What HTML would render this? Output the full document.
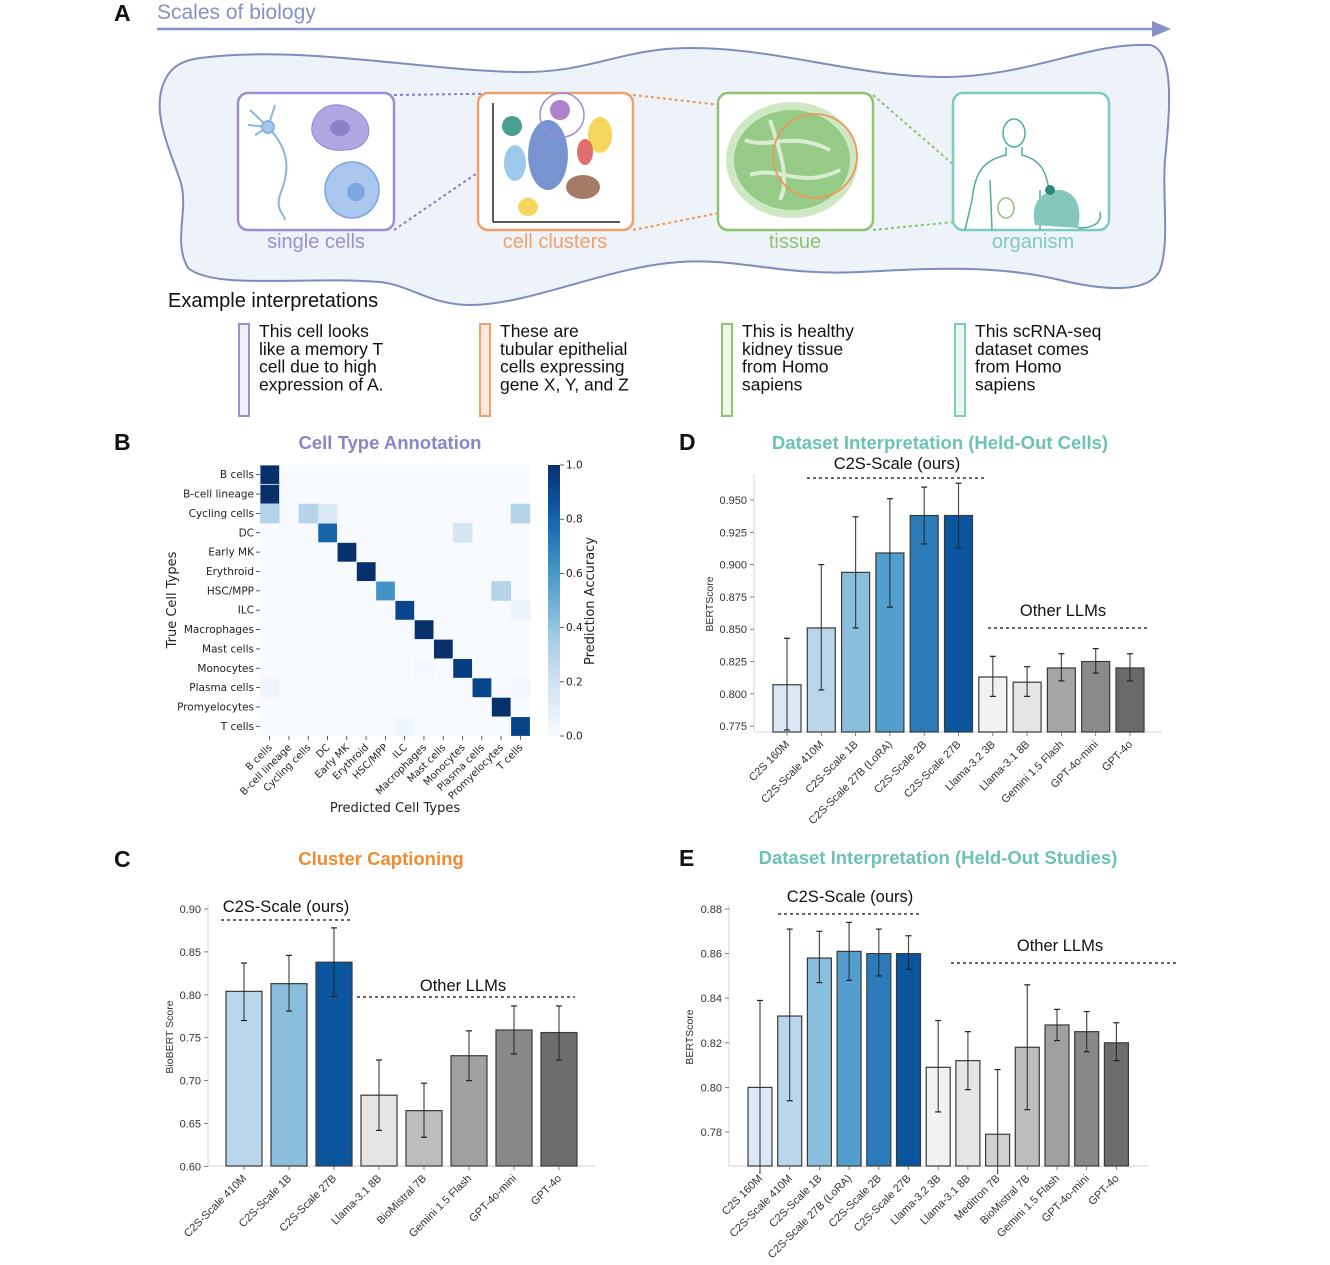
<!DOCTYPE html>
<html><head><meta charset="utf-8">
<style>
html,body{margin:0;padding:0;background:#fff;}
svg{display:block;font-family:"Liberation Sans",sans-serif;}
.dv{font-family:"DejaVu Sans","Liberation Sans",sans-serif;}
</style></head>
<body>
<svg id="fig" width="1330" height="1265" viewBox="0 0 1330 1265" xmlns="http://www.w3.org/2000/svg">
<g>
  <text x="114" y="21" font-size="23" font-weight="bold" fill="#111">A</text>
  <text x="157" y="19" font-size="21" fill="#8592c3">Scales of biology</text>
  <line x1="157" y1="29" x2="1155" y2="29" stroke="#8592c3" stroke-width="2.5"/>
  <polygon points="1152,21 1171,29 1152,37" fill="#8592c3"/>
  <path d="M200,58 C300,45 420,70 515,72 C590,74 620,48 690,48 C780,48 860,78 947,77 C1030,76 1090,42 1150,45 C1175,50 1170,110 1165,160 C1162,200 1170,240 1160,270 C1150,292 1110,292 1060,280 C1000,265 930,268 860,272 C780,276 740,258 680,262 C610,266 530,305 470,305 C430,305 410,285 380,282 C300,276 215,290 188,268 C172,240 190,210 180,180 C170,150 150,110 165,80 C172,65 185,60 200,58 Z" fill="#eef3fa" stroke="#7f8cbd" stroke-width="2"/>
  <g stroke-width="2" stroke-dasharray="3,3" fill="none">
    <line x1="394" y1="95" x2="540" y2="93" stroke="#8a80c8"/>
    <line x1="394" y1="230" x2="540" y2="130" stroke="#8a80c8"/>
    <line x1="633" y1="95" x2="810" y2="115" stroke="#f0965a"/>
    <line x1="633" y1="230" x2="810" y2="195" stroke="#f0965a"/>
    <line x1="873" y1="95" x2="1000" y2="205" stroke="#8dc46f"/>
    <line x1="873" y1="230" x2="995" y2="218" stroke="#8dc46f"/>
  </g>
  <rect x="238" y="93" width="156" height="137" rx="10" fill="#fff" stroke="#9b8fd0" stroke-width="2.5"/>
  <rect x="478" y="93" width="155" height="137" rx="10" fill="#fff" stroke="#f0a06a" stroke-width="2.5"/>
  <rect x="718" y="93" width="155" height="137" rx="10" fill="#fff" stroke="#8dc46f" stroke-width="2.5"/>
  <rect x="953" y="93" width="156" height="137" rx="10" fill="#fff" stroke="#7ccbc0" stroke-width="2.5"/>
  <g stroke="#8ab4e0" stroke-width="2" fill="none">
    <path d="M268,127 C290,150 290,170 280,195 C275,210 285,215 285,220"/>
    <path d="M268,127 L250,110 M268,127 L255,135 M268,127 L275,105 M268,127 L248,125"/>
    <circle cx="268" cy="127" r="6" fill="#a7c8ec"/>
  </g>
  <path d="M340,105 C355,108 365,115 368,125 C372,140 360,150 345,150 C330,152 315,145 312,132 C310,118 322,103 340,105 Z" fill="#b2a6e2" stroke="#9285cf"/>
  <ellipse cx="340" cy="128" rx="10" ry="8" fill="#8c80c6"/>
  <ellipse cx="352" cy="190" rx="27" ry="28" fill="#a9c6ef" stroke="#7ea6dd" stroke-width="1.5"/>
  <circle cx="356" cy="192" r="9" fill="#7ea6dd"/>
  <g>
    <line x1="493" y1="103" x2="493" y2="222" stroke="#222" stroke-width="1.5"/>
    <line x1="493" y1="222" x2="620" y2="222" stroke="#222" stroke-width="1.5"/>
    <ellipse cx="512" cy="126" rx="10" ry="10" fill="#2a8e7e" opacity="0.85"/>
    <ellipse cx="548" cy="155" rx="20" ry="35" fill="#4a6fc0" opacity="0.75"/>
    <ellipse cx="515" cy="163" rx="11" ry="18" fill="#8cc0ea" opacity="0.85"/>
    <ellipse cx="560" cy="110" rx="10" ry="10" fill="#9a63c0" opacity="0.8"/>
    <ellipse cx="600" cy="135" rx="12" ry="18" fill="#f2d040" opacity="0.85"/>
    <ellipse cx="585" cy="152" rx="8" ry="13" fill="#d84a4a" opacity="0.8"/>
    <ellipse cx="583" cy="187" rx="17" ry="12" fill="#8c5a40" opacity="0.8"/>
    <ellipse cx="528" cy="207" rx="10" ry="9" fill="#f2d040" opacity="0.85"/>
    <circle cx="562" cy="115" r="22" fill="none" stroke="#9b8fd0" stroke-width="1.5"/>
  </g>
  <g>
    <ellipse cx="792" cy="160" rx="66" ry="58" fill="#cfe8c4"/>
    <ellipse cx="792" cy="160" rx="58" ry="50" fill="#8cc47c" opacity="0.85"/>
    <path d="M745,140 C770,150 790,130 830,150 M750,175 C780,165 800,190 840,170 M770,120 C780,150 790,180 780,200" stroke="#d7ecd0" stroke-width="4" fill="none"/>
    <circle cx="815" cy="156" r="42" fill="none" stroke="#f0965a" stroke-width="1.8"/>
  </g>
  <g stroke="#4eada3" stroke-width="1.5" fill="none">
    <ellipse cx="1014" cy="133" rx="11" ry="14"/>
    <path d="M1006,147 L1006,155 C985,160 975,170 972,200 L965,230 M1022,147 L1022,155 C1040,160 1048,170 1050,200"/>
    <path d="M990,180 L992,230 M1040,190 L1040,230"/>
    <ellipse cx="1006" cy="208" rx="8" ry="10" stroke="#8dc46f"/>
    <path d="M1035,225 C1030,205 1040,190 1060,190 C1078,192 1082,210 1078,228 Z" fill="#86c7bd" stroke="none"/>
    <circle cx="1050" cy="190" r="5" fill="#2e8a80" stroke="none"/>
    <path d="M1078,228 C1095,228 1102,222 1100,212"/>
  </g>
  <g font-size="20" text-anchor="middle">
    <text x="316" y="248" fill="#9b8fd0">single cells</text>
    <text x="555" y="248" fill="#f0a06a">cell clusters</text>
    <text x="795" y="248" fill="#8dc46f">tissue</text>
    <text x="1033" y="248" fill="#7ccbc0">organism</text>
  </g>
  <text x="168" y="307" font-size="20" fill="#111">Example interpretations</text>
  <g font-size="17.5" fill="#111">
    <rect x="239" y="324" width="10" height="92" fill="#f1effa" stroke="#9b8fd0" stroke-width="2"/>
    <text x="259" y="337"><tspan x="259">This cell looks</tspan><tspan x="259" dy="17.8">like a memory T</tspan><tspan x="259" dy="17.8">cell due to high</tspan><tspan x="259" dy="17.8">expression of A.</tspan></text>
    <rect x="480" y="324" width="10" height="92" fill="#fde9dc" stroke="#f0a06a" stroke-width="2"/>
    <text x="500" y="337"><tspan x="500">These are</tspan><tspan x="500" dy="17.8">tubular epithelial</tspan><tspan x="500" dy="17.8">cells expressing</tspan><tspan x="500" dy="17.8">gene X, Y, and Z</tspan></text>
    <rect x="722" y="324" width="10" height="92" fill="#eef7e9" stroke="#8dc46f" stroke-width="2"/>
    <text x="742" y="337"><tspan x="742">This is healthy</tspan><tspan x="742" dy="17.8">kidney tissue</tspan><tspan x="742" dy="17.8">from Homo</tspan><tspan x="742" dy="17.8">sapiens</tspan></text>
    <rect x="955" y="324" width="10" height="92" fill="#ebf7f5" stroke="#7ccbc0" stroke-width="2"/>
    <text x="975" y="337"><tspan x="975">This scRNA-seq</tspan><tspan x="975" dy="17.8">dataset comes</tspan><tspan x="975" dy="17.8">from Homo</tspan><tspan x="975" dy="17.8">sapiens</tspan></text>
  </g>
</g>
<g font-size="23" font-weight="bold" fill="#111">
  <text x="114" y="450">B</text>
  <text x="114" y="867">C</text>
  <text x="679" y="450">D</text>
  <text x="679" y="866">E</text>
</g>
<g font-size="18.5" font-weight="bold" text-anchor="middle">
  <text x="390" y="449" fill="#8a85c8">Cell Type Annotation</text>
  <text x="940" y="449" fill="#6cc3b5">Dataset Interpretation (Held-Out Cells)</text>
  <text x="381" y="865" fill="#f28a30">Cluster Captioning</text>
  <text x="938" y="864" fill="#6cc3b5">Dataset Interpretation (Held-Out Studies)</text>
</g>
<g id="heat"></g>
<g id="chartC"></g>
<g id="chartD"></g>
<g id="chartE"></g>
</svg>
<script>
var cellTypes = ["B cells","B-cell lineage","Cycling cells","DC","Early MK","Erythroid","HSC/MPP","ILC","Macrophages","Mast cells","Monocytes","Plasma cells","Promyelocytes","T cells"];
var heatEntries = [
 [0,0,1.0],[1,0,1.0],
 [2,0,0.3],[2,2,0.3],[2,3,0.15],[2,13,0.3],
 [3,3,0.8],[3,10,0.17],
 [4,4,1.0],[5,5,1.0],
 [6,6,0.62],[6,12,0.3],
 [7,7,0.92],[7,13,0.06],[7,3,0.01],
 [8,8,1.0],[9,9,1.0],
 [10,10,0.95],[10,8,0.02],
 [11,11,0.92],[11,0,0.04],[11,13,0.03],
 [12,12,1.0],
 [13,13,0.93],[13,7,0.04]
];
var cbarTicks = [0,0.2,0.4,0.6,0.8,1.0];

var cLabels = ["C2S-Scale 410M","C2S-Scale 1B","C2S-Scale 27B","Llama-3.1 8B","BioMistral 7B","Gemini 1.5 Flash","GPT-4o-mini","GPT-4o"];
var cValues = [0.804,0.813,0.838,0.683,0.665,0.729,0.759,0.756];
var cLow    = [0.770,0.781,0.798,0.642,0.634,0.700,0.731,0.724];
var cHigh   = [0.837,0.846,0.878,0.724,0.697,0.758,0.787,0.787];
var cColors = ["#bad6eb","#89bedc","#0b559f","#e5e5e5","#bdbdbd","#a0a0a0","#888888","#6d6d6d"];
var cTicks  = [0.60,0.65,0.70,0.75,0.80,0.85,0.90];

var dLabels = ["C2S 160M","C2S-Scale 410M","C2S-Scale 1B","C2S-Scale 27B (LoRA)","C2S-Scale 2B","C2S-Scale 27B","Llama-3.2 3B","Llama-3.1 8B","Gemini 1.5 Flash","GPT-4o-mini","GPT-4o"];
var dValues = [0.807,0.851,0.894,0.909,0.938,0.938,0.813,0.809,0.820,0.825,0.820];
var dLow    = [0.772,0.803,0.851,0.867,0.916,0.913,0.798,0.798,0.810,0.816,0.810];
var dHigh   = [0.843,0.900,0.937,0.951,0.960,0.963,0.829,0.821,0.831,0.835,0.831];
var dColors = ["#dbe9f6","#bad6eb","#89bedc","#539ecd","#2b7bba","#0b559f","#f2f2f2","#e5e5e5","#a5a5a5","#8a8a8a","#6a6a6a"];
var dTicks  = [0.775,0.800,0.825,0.850,0.875,0.900,0.925,0.950];

var eLabels = ["C2S 160M","C2S-Scale 410M","C2S-Scale 1B","C2S-Scale 27B (LoRA)","C2S-Scale 2B","C2S-Scale 27B","Llama-3.2 3B","Llama-3.1 8B","Meditron 7B","BioMistral 7B","Gemini 1.5 Flash","GPT-4o-mini","GPT-4o"];
var eValues = [0.800,0.832,0.858,0.861,0.860,0.860,0.809,0.812,0.779,0.818,0.828,0.825,0.820];
var eLow    = [0.760,0.794,0.847,0.848,0.850,0.853,0.789,0.799,0.750,0.790,0.821,0.816,0.812];
var eHigh   = [0.839,0.871,0.870,0.874,0.871,0.868,0.830,0.825,0.808,0.846,0.835,0.834,0.829];
var eColors = ["#dbe9f6","#bad6eb","#89bedc","#539ecd","#2b7bba","#0b559f","#f2f2f2","#e5e5e5","#d0d0d0","#bdbdbd","#a0a0a0","#888888","#6d6d6d"];
var eTicks  = [0.78,0.80,0.82,0.84,0.86,0.88];

var NS = "http://www.w3.org/2000/svg";
function mk(tag, attrs, parent){
  var e = document.createElementNS(NS, tag);
  for (var k in attrs) e.setAttribute(k, attrs[k]);
  if (parent) parent.appendChild(e);
  return e;
}
var blueStops = ["#f7fbff","#deebf7","#c6dbef","#9ecae1","#6baed6","#4292c6","#2171b5","#08519c","#08306b"];
function hex2rgb(h){return [parseInt(h.substr(1,2),16),parseInt(h.substr(3,2),16),parseInt(h.substr(5,2),16)];}
function blues(t){
  t = Math.max(0, Math.min(1, t));
  var p = t*(blueStops.length-1), i = Math.floor(p); if (i >= blueStops.length-1) i = blueStops.length-2;
  var f = p - i, a = hex2rgb(blueStops[i]), b = hex2rgb(blueStops[i+1]);
  return "rgb("+Math.round(a[0]+(b[0]-a[0])*f)+","+Math.round(a[1]+(b[1]-a[1])*f)+","+Math.round(a[2]+(b[2]-a[2])*f)+")";
}

(function(){
  var g = document.getElementById("heat");
  var x0 = 260, y0 = 465, x1 = 530, y1 = 736;
  var n = cellTypes.length, cw = (x1-x0)/n, ch = (y1-y0)/n;
  function cx(c){return x0 + c*cw;}
  function cy(r){return y0 + r*ch;}
  var bg = mk("rect",{x:x0,y:y0,width:x1-x0,height:y1-y0,fill:blues(0)},g);
  
  
  heatEntries.forEach(function(en){
    var r = mk("rect",{x:cx(en[1]),y:cy(en[0]),width:cw+0.3,height:ch+0.3,fill:blues(en[2])},g);
    if (en[2] > 0.5) { r.setAttribute("stroke","#f7fbff"); r.setAttribute("stroke-width","0.8"); }
    
    
  });
  cellTypes.forEach(function(name, i){
    var ty = cy(i)+ch/2;
    mk("line",{x1:x0-4,y1:ty,x2:x0,y2:ty,stroke:"#333","stroke-width":0.8},g);
    var t = mk("text",{x:x0-6,y:ty+3.5,"font-size":10.5,"text-anchor":"end",fill:"#222","class":"dv"},g);
    t.textContent = name;
    
    
    var tx = cx(i)+cw/2;
    mk("line",{x1:tx,y1:y1,x2:tx,y2:y1+4,stroke:"#333","stroke-width":0.8},g);
    var t2 = mk("text",{x:tx+3,y:y1+12,"font-size":10,"text-anchor":"end",fill:"#222","class":"dv",transform:"rotate(-45 "+(tx+3)+" "+(y1+12)+")"},g);
    t2.textContent = name;
    
    
  });
  var yt = mk("text",{x:176,y:600,"font-size":13,"text-anchor":"middle",fill:"#222","class":"dv",transform:"rotate(-90 176 600)"},g);
  yt.textContent = "True Cell Types";
  
  
  var xt = mk("text",{x:395,y:812,"font-size":13,"text-anchor":"middle",fill:"#222","class":"dv"},g);
  xt.textContent = "Predicted Cell Types";
  
  
  var defs = mk("defs",{},g);
  var lg = mk("linearGradient",{id:"cbg",x1:"0",y1:"1",x2:"0",y2:"0"},defs);
  for (var i=0;i<=8;i++) mk("stop",{offset:(i/8),"stop-color":blueStops[i]},lg);
  var cb = mk("rect",{x:548,y:y0,width:12,height:y1-y0,fill:"url(#cbg)"},g);
  
  
  cbarTicks.forEach(function(v){
    var ty = y1 - v*(y1-y0);
    mk("line",{x1:560,y1:ty,x2:564,y2:ty,stroke:"#333","stroke-width":0.8},g);
    var t = mk("text",{x:566,y:ty+3.5,"font-size":10.5,fill:"#222","class":"dv"},g);
    t.textContent = v.toFixed(1);
    
    
  });
  var cl = mk("text",{x:594,y:601,"font-size":13,"text-anchor":"middle",fill:"#222","class":"dv",transform:"rotate(-90 594 601)"},g);
  cl.textContent = "Prediction Accuracy";
  
  
})();

function barChart(g, o, labels, values, low, high, colors, ticks){
  function y(v){ return o.yRef + (o.vRef - v)*o.pxPerUnit; }
  function x(i){ return o.c0 + i*o.step; }
  mk("line",{x1:o.axL,y1:o.spineTop,x2:o.axL,y2:o.base,stroke:"#ddd","stroke-width":1.2},g);
  mk("line",{x1:o.axL,y1:o.base,x2:o.axR,y2:o.base,stroke:"#ddd","stroke-width":1.2},g);
  ticks.forEach(function(v){
    var ty = y(v);
    mk("line",{x1:o.axL-4,y1:ty,x2:o.axL,y2:ty,stroke:"#666","stroke-width":0.8},g);
    var t = mk("text",{x:o.axL-7,y:ty+4,"font-size":11,"text-anchor":"end",fill:"#333"},g);
    t.textContent = v.toFixed(o.dec);
    
    
  });
  values.forEach(function(v,i){
    var top = y(v);
    var r = mk("rect",{x:x(i)-o.bw/2,y:top,width:o.bw,height:o.base-top,fill:colors[i],stroke:"#3a3a3a","stroke-width":1.2},g);
    
    
    var lo = Math.min(y(low[i]), o.base+8), hi = y(high[i]);
    var e = mk("line",{x1:x(i),y1:lo,x2:x(i),y2:hi,stroke:"#222","stroke-width":1.2,"stroke-opacity":0.8},g);
    
    
    mk("line",{x1:x(i)-3,y1:hi,x2:x(i)+3,y2:hi,stroke:"#222","stroke-width":1.2},g);
    if (y(low[i]) < o.base) mk("line",{x1:x(i)-3,y1:lo,x2:x(i)+3,y2:lo,stroke:"#222","stroke-width":1.2},g);
    mk("line",{x1:x(i),y1:o.base,x2:x(i),y2:o.base+4,stroke:"#666","stroke-width":0.8},g);
    var lx = x(i)+3, ly = o.base+13;
    var t = mk("text",{x:lx,y:ly,"font-size":11,"text-anchor":"end",fill:"#333",transform:"rotate(-45 "+lx+" "+ly+")"},g);
    t.textContent = labels[i];
    
    
  });
  var at = mk("text",{x:o.titleX,y:o.titleY,"font-size":10.5,"text-anchor":"middle",fill:"#333",transform:"rotate(-90 "+o.titleX+" "+o.titleY+")"},g);
  at.textContent = o.yTitle;
  
  
  o.groups.forEach(function(gr){
    var t = mk("text",{x:(gr.x1+gr.x2)/2 + (gr.dx||0),y:gr.ty,"font-size":16.5,"text-anchor":"middle",fill:"#111"},g);
    t.textContent = gr.label;
    
    
    var l = mk("line",{x1:gr.x1,y1:gr.ly,x2:gr.x2,y2:gr.ly,stroke:"#333","stroke-width":1.5,"stroke-dasharray":"3,3"},g);
    
    
  });
}

barChart(document.getElementById("chartC"), {
  yRef:909, vRef:0.90, pxPerUnit:858, base:1166, axL:208, axR:595, spineTop:905,
  c0:244, step:45, bw:36, dec:2, yTitle:"BioBERT Score", titleX:173, titleY:1037,
  groups:[{label:"C2S-Scale (ours)",x1:221,x2:351,ly:920,ty:912},{label:"Other LLMs",x1:357,x2:575,ly:997,ty:991,dx:-3}]
}, cLabels, cValues, cLow, cHigh, cColors, cTicks);

barChart(document.getElementById("chartD"), {
  yRef:500, vRef:0.950, pxPerUnit:1292, base:732, axL:754, axR:1162, spineTop:474,
  c0:787, step:34.3, bw:28, dec:3, yTitle:"BERTScore", titleX:713, titleY:604,
  groups:[{label:"C2S-Scale (ours)",x1:807,x2:985,ly:478,ty:469,dx:1},{label:"Other LLMs",x1:988,x2:1150,ly:628,ty:616,dx:-6}]
}, dLabels, dValues, dLow, dHigh, dColors, dTicks);

barChart(document.getElementById("chartE"), {
  yRef:909, vRef:0.88, pxPerUnit:2230, base:1166, axL:729, axR:1148, spineTop:905,
  c0:760, step:29.7, bw:24, dec:2, yTitle:"BERTScore", titleX:693, titleY:1037,
  groups:[{label:"C2S-Scale (ours)",x1:778,x2:922,ly:914,ty:902},{label:"Other LLMs",x1:951,x2:1177,ly:963,ty:951,dx:-4}]
}, eLabels, eValues, eLow, eHigh, eColors, eTicks);
</script>
</body></html>
